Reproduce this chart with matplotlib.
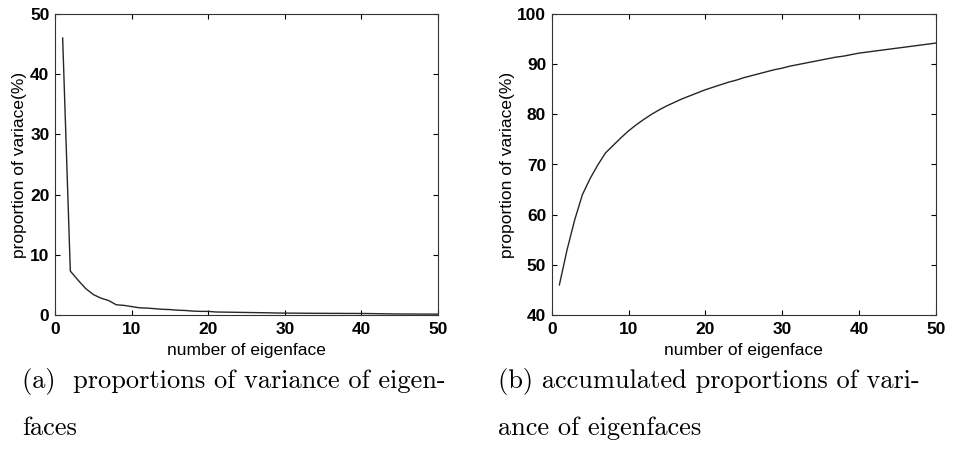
import matplotlib
matplotlib.use("Agg")
import matplotlib.pyplot as plt
import numpy as np

eigen_n = list(range(1, 51))
variance_pct = [46.0, 7.3, 5.8, 4.4, 3.4, 2.8, 2.4, 1.7, 1.6, 1.4,
                1.2, 1.15, 1.05, 0.95, 0.9, 0.8, 0.75, 0.65, 0.6, 0.6,
                0.5, 0.48, 0.46, 0.44, 0.42, 0.4, 0.38, 0.36, 0.33, 0.32,
                0.31, 0.3, 0.29, 0.28, 0.28, 0.27, 0.27, 0.26, 0.26, 0.25,
                0.24, 0.22, 0.2, 0.18, 0.17, 0.16, 0.16, 0.15, 0.15, 0.15]
cumulative_pct = [46.0, 53.0, 59.0, 64.0, 67.2, 69.9, 72.3, 73.8, 75.3, 76.7,
                  77.9, 79.0, 80.0, 80.9, 81.7, 82.4, 83.1, 83.7, 84.3, 84.9,
                  85.4, 85.9, 86.4, 86.8, 87.3, 87.7, 88.1, 88.5, 88.9, 89.2,
                  89.6, 89.9, 90.2, 90.5, 90.8, 91.1, 91.4, 91.6, 91.9, 92.2,
                  92.4, 92.6, 92.8, 93.0, 93.2, 93.4, 93.6, 93.8, 94.0, 94.2]

xticks = [0, 10, 20, 30, 40, 50]
yticks_a = [0, 10, 20, 30, 40, 50]
yticks_b = [40, 50, 60, 70, 80, 90, 100]
xlabel = "number of eigenface"
ylabel = "proportion of variace(%)"
caption_a = ["(a)  proportions of variance of eigen-", "faces"]
caption_b = ["(b) accumulated proportions of vari-", "ance of eigenfaces"]

fig = plt.figure(figsize=(9.63, 4.69), dpi=100)
W, H = 963, 469

def make_axes(left_px, right_px):
    return fig.add_axes([left_px / W, 1 - 315 / H, (right_px - left_px) / W, (315 - 14) / H])

ax1 = make_axes(55, 438)
ax2 = make_axes(551.7, 935.7)

for ax, y, yt, ylx in [(ax1, variance_pct, yticks_a, -0.073), (ax2, cumulative_pct, yticks_b, -0.096)]:
    ax.plot(eigen_n, y, color="#262626", lw=1.0)
    ax.set_xlim(0, 50)
    ax.set_ylim(yt[0], yt[-1])
    ax.set_xticks(xticks)
    ax.set_yticks(yt)
    ax.tick_params(direction="in", top=True, right=True, length=3.5, width=0.8,
                   labelsize=12.5)
    ax.tick_params(axis="x", pad=5)
    ax.tick_params(axis="y", pad=4)
    for lab in ax.get_xticklabels() + ax.get_yticklabels():
        lab.set_fontfamily("Liberation Sans")
        lab.set_fontweight("bold")
    for s in ax.spines.values():
        s.set_linewidth(0.8)
        s.set_color("#333333")
    ax.set_xlabel(xlabel, fontsize=12.5, family="Liberation Sans")
    ax.set_ylabel(ylabel, fontsize=12.5, family="Liberation Sans")
    ax.xaxis.set_label_coords(0.5, -0.092)
    ax.yaxis.set_label_coords(ylx, 0.5)

cap_kw = dict(fontsize=19, family="cmr10", va="center", ha="left")
fig.text(22 / W, 1 - 381 / H, caption_a[0], **cap_kw)
fig.text(22 / W, 1 - 428 / H, caption_a[1], **cap_kw)
fig.text(498 / W, 1 - 381 / H, caption_b[0], **cap_kw)
fig.text(498 / W, 1 - 428 / H, caption_b[1], **cap_kw)

fig.savefig("out.png", dpi=100)
